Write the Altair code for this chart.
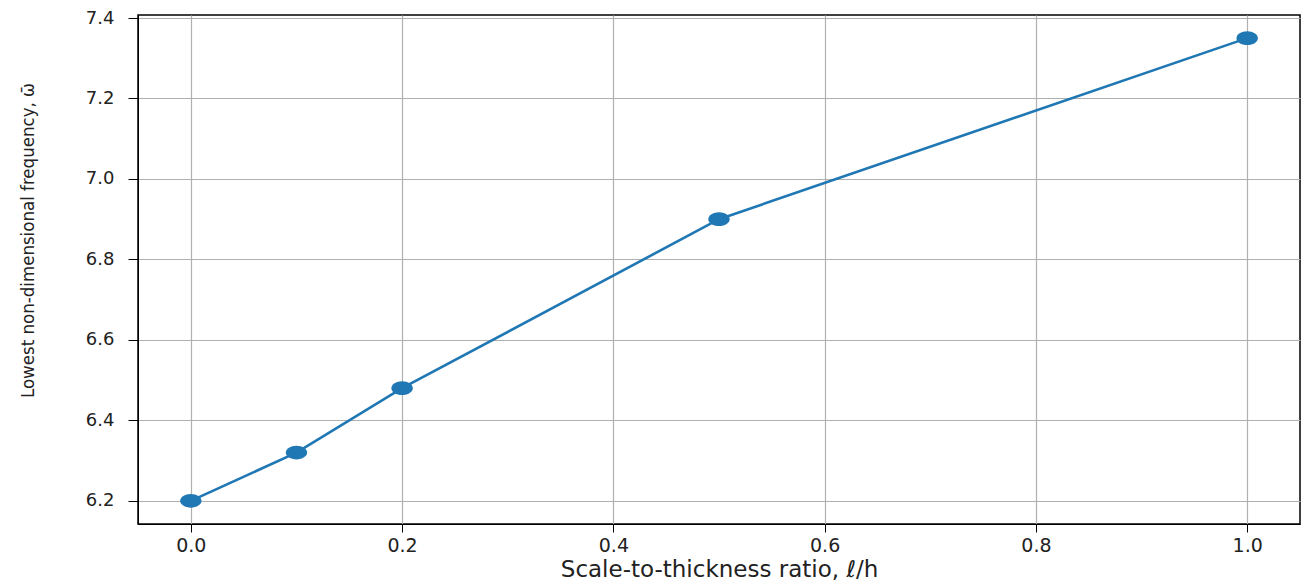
import altair as alt
import pandas as pd

ratio = [0.0, 0.1, 0.2, 0.5, 1.0]
freq = [6.2, 6.32, 6.48, 6.9, 7.35]
x_ticks = [0.0, 0.2, 0.4, 0.6, 0.8, 1.0]
y_ticks = [6.2, 6.4, 6.6, 6.8, 7.0, 7.2, 7.4]

df = pd.DataFrame({"ratio": ratio, "freq": freq})

blue = "#1f77b4"
ellipse = "M -1.55 0 A 1.55 1 0 1 0 1.55 0 A 1.55 1 0 1 0 -1.55 0 Z"

x = alt.X("ratio:Q",
          scale=alt.Scale(domain=[-0.05, 1.05], nice=False, zero=False),
          axis=alt.Axis(values=x_ticks, format=".1f",
                        title="Scale-to-thickness ratio, ℓ/h",
                        titleFont="DejaVu Sans", titleFontSize=23, titleFontWeight="normal",
                        titleColor="#222", titlePadding=3,
                        labelFont="DejaVu Sans", labelFontSize=19, labelColor="#222",
                        labelPadding=4,
                        tickSize=8, tickColor="#000", domainColor="#000",
                        gridColor="#b0b0b0", gridWidth=1.2))
y = alt.Y("freq:Q",
          scale=alt.Scale(domain=[6.1425, 7.4075], nice=False, zero=False),
          axis=alt.Axis(values=y_ticks, format=".1f",
                        title="Lowest non-dimensional frequency, ω̄",
                        titleFont="DejaVu Sans Condensed, Roboto Condensed, Roboto, sans-serif",
                        titleFontSize=18.5,
                        titleFontWeight="normal", titleColor="#222",
                        titleX=-111, titleY=225, titleAlign="center", titleBaseline="middle",
                        titleAngle=270,
                        labelFont="DejaVu Sans", labelFontSize=18, labelColor="#222",
                        labelPadding=14,
                        tickSize=10, tickColor="#000", domainColor="#000",
                        gridColor="#b0b0b0", gridWidth=1.2))

line = alt.Chart(df).mark_line(color=blue, strokeWidth=2.6).encode(x=x, y=y)
pts = alt.Chart(df).mark_point(filled=True, color=blue, opacity=1, shape=ellipse,
                               size=190).encode(x=x, y=y)

chart = (line + pts).properties(
    width=1162, height=509,
    autosize=alt.AutoSizeParams(type="none"),
    padding={"left": 130, "top": 7, "right": 1, "bottom": 56},
    background="white",
).configure_view(stroke="#000", strokeWidth=1.5)

chart.save("out.html", embed_options={"renderer": "svg", "actions": False})
